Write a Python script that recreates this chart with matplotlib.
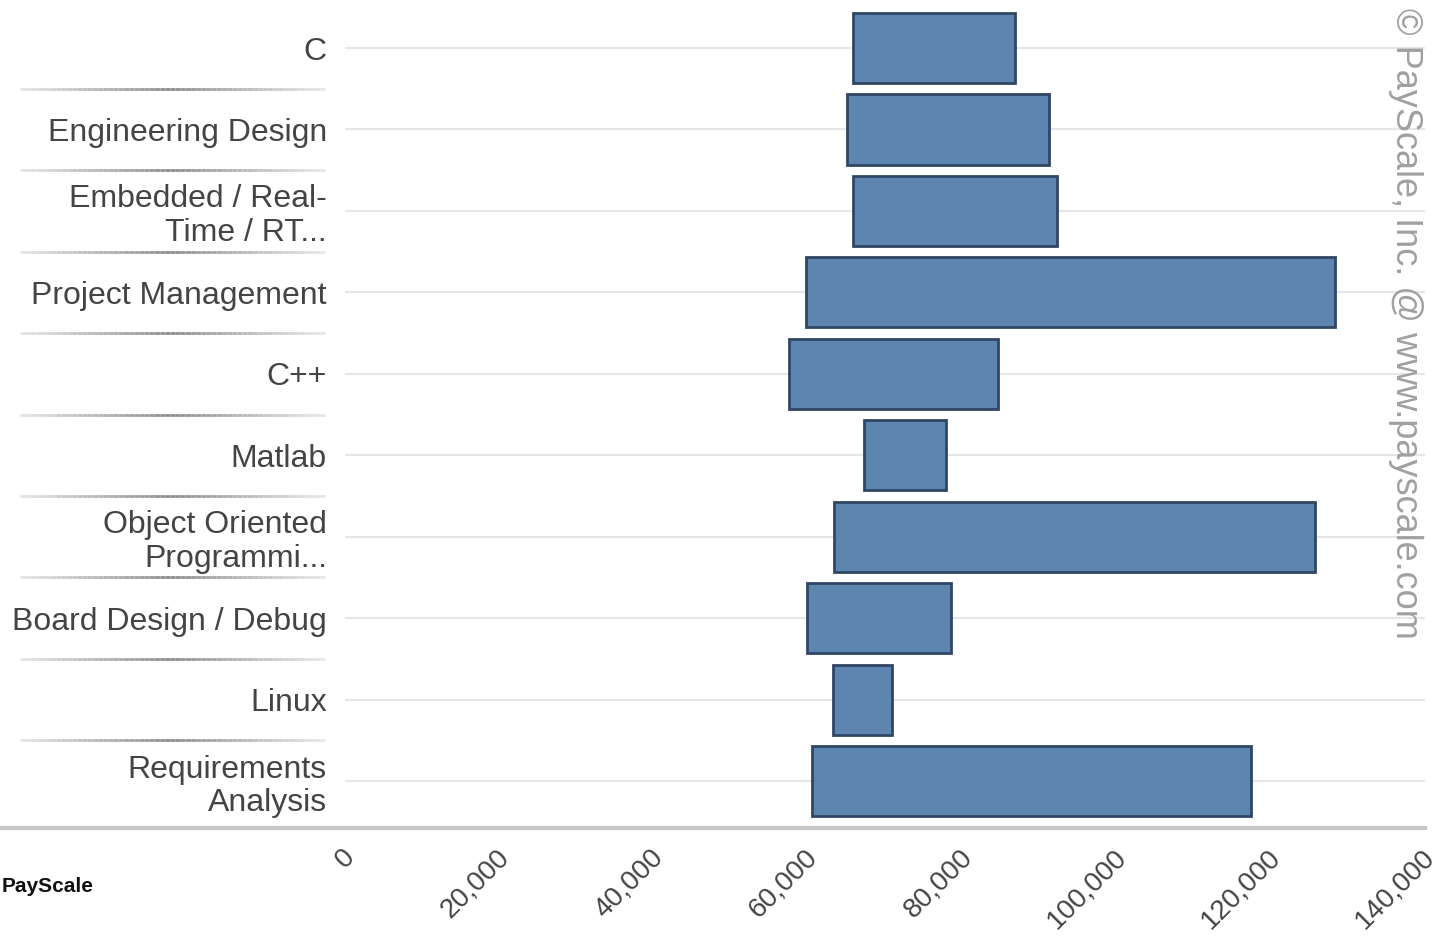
import numpy as np
import matplotlib
matplotlib.use("Agg")
import matplotlib.pyplot as plt
from matplotlib import transforms
from matplotlib.collections import LineCollection

plt.rcParams["font.family"] = ["Liberation Sans", "DejaVu Sans"]

skills = [
    "C",
    "Engineering Design",
    "Embedded / Real-\nTime / RT...",
    "Project Management",
    "C++",
    "Matlab",
    "Object Oriented\nProgrammi...",
    "Board Design / Debug",
    "Linux",
    "Requirements\nAnalysis",
]
low = [65900, 65100, 65900, 59700, 57500, 67300, 63400, 59900, 63300, 60600]
high = [86900, 91200, 92300, 128300, 84600, 77900, 125800, 78500, 70900, 117400]
ticks = [0, 20000, 40000, 60000, 80000, 100000, 120000, 140000]

bar_color = "#5d85af"
edge_color = "#2f4764"
text_color = "#444444"

fig = plt.figure(figsize=(14.45, 9.41), dpi=100)
ax = fig.add_axes([345 / 1445, 1 - 828 / 941, 1080 / 1445, 821 / 941])

y = np.arange(len(skills))
widths = np.array(high) - np.array(low)
ax.barh(y, widths, left=low, height=0.86, color=bar_color,
        edgecolor=edge_color, linewidth=2, zorder=3)

ax.set_xlim(0, 140000)
ax.set_ylim(9.577, -0.504)
for s in ax.spines.values():
    s.set_visible(False)

# row gridlines
for yi in y:
    ax.axhline(yi, color="#e6e6e6", linewidth=1.5, zorder=1)

ax.set_yticks(y)
ax.set_yticklabels(skills, fontsize=23, color=text_color, ha="right",
                   linespacing=1.15)
ax.tick_params(axis="y", length=0, pad=13)

ax.set_xticks(ticks)
ax.set_xticklabels(["{:,}".format(t) for t in ticks], fontsize=20,
                   color=text_color, rotation=45, ha="right", va="center",
                   rotation_mode="anchor")
ax.tick_params(axis="x", length=0, pad=0)
shift = transforms.ScaledTranslation(6 / 100, -25 / 100, fig.dpi_scale_trans)
for lab in ax.get_xticklabels():
    lab.set_transform(lab.get_transform() + shift)

# separators between the category labels, darker towards the middle
blend = transforms.blended_transform_factory(fig.transFigure, ax.transData)
xs = np.linspace(20 / 1445, 325 / 1445, 60)
mid = 170 / 1445
for yb in y[:-1] + 0.5:
    segs = [[(xs[i], yb), (xs[i + 1], yb)] for i in range(len(xs) - 1)]
    d = np.abs((xs[:-1] + xs[1:]) / 2 - mid) / (mid - 20 / 1445)
    g = 0.55 + 0.35 * np.clip(d, 0, 1)
    cols = [(v, v, v) for v in g]
    lc = LineCollection(segs, colors=cols, linewidths=2, transform=blend,
                        clip_on=False)
    fig.add_artist(lc)

# bottom baseline across the full width
fig.add_artist(plt.Line2D([0, 1425 / 1445], [1 - 828 / 941, 1 - 828 / 941],
                          color="#c8c8c8", linewidth=3,
                          transform=fig.transFigure))

fig.text(1405 / 1445, 1 - 8 / 941, "© PayScale, Inc. @ www.payscale.com",
         rotation=-90, ha="center", va="top", fontsize=26, color="#a0a0a0")
fig.text(2 / 1445, 1 - 886 / 941, "PayScale", ha="left", va="center",
         fontsize=15, fontweight="bold", color="#111111")

fig.savefig("out.png", dpi=100)
